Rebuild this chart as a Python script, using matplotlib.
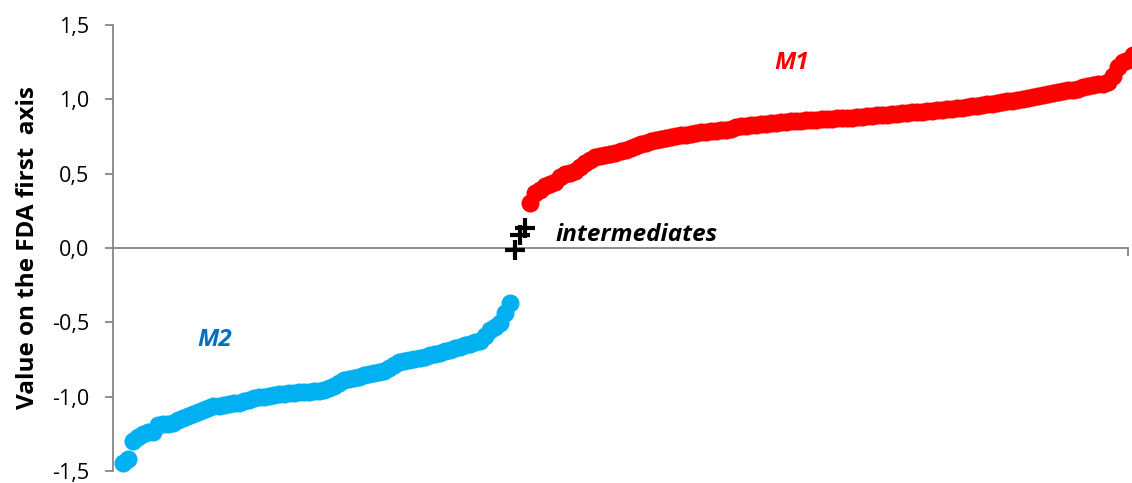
import numpy as np
import matplotlib
matplotlib.use('Agg')
import matplotlib.pyplot as plt
from matplotlib.ticker import FuncFormatter

plt.rcParams['font.family'] = ['Open Sans', 'DejaVu Sans']

# sorted scores on the first FDA axis, in rank order
m2 = [-1.45, -1.42, -1.30, -1.27, -1.25, -1.24, -1.235, -1.19, -1.185, -1.185,
      -1.18, -1.16, -1.145, -1.13, -1.115, -1.105, -1.09, -1.075, -1.065, -1.06,
      -1.055, -1.05, -1.045, -1.04, -1.03, -1.02, -1.01, -1.005, -1.0, -0.995,
      -0.99, -0.985, -0.982, -0.978, -0.975, -0.972, -0.968, -0.966, -0.963, -0.96,
      -0.955, -0.945, -0.93, -0.91, -0.89, -0.88, -0.872, -0.865, -0.857, -0.85,
      -0.843, -0.835, -0.825, -0.81, -0.785, -0.77, -0.76, -0.752, -0.745, -0.738,
      -0.73, -0.72, -0.712, -0.705, -0.695, -0.685, -0.675, -0.665, -0.655, -0.645,
      -0.635, -0.628, -0.59, -0.555, -0.53, -0.505, -0.44, -0.37]
inter = [-0.01, 0.09, 0.135]
m1 = [0.305, 0.37, 0.39, 0.415, 0.43, 0.445, 0.48, 0.495, 0.505, 0.52,
      0.545, 0.575, 0.59, 0.61, 0.62, 0.628, 0.635, 0.642, 0.65, 0.66,
      0.673, 0.685, 0.697, 0.708, 0.72, 0.728, 0.735, 0.742, 0.748, 0.753,
      0.758, 0.762, 0.768, 0.773, 0.778, 0.782, 0.786, 0.79, 0.793, 0.796,
      0.80, 0.812, 0.818, 0.822, 0.826, 0.83, 0.834, 0.837, 0.84, 0.843,
      0.846, 0.849, 0.852, 0.855, 0.858, 0.86, 0.862, 0.864, 0.866, 0.868,
      0.87, 0.872, 0.874, 0.876, 0.878, 0.88, 0.883, 0.886, 0.889, 0.892,
      0.895, 0.897, 0.9, 0.903, 0.906, 0.909, 0.912, 0.915, 0.918, 0.921,
      0.924, 0.927, 0.93, 0.933, 0.936, 0.94, 0.944, 0.948, 0.953, 0.958,
      0.963, 0.968, 0.972, 0.977, 0.981, 0.986, 0.992, 0.998, 1.004, 1.01,
      1.016, 1.021, 1.033, 1.039, 1.044, 1.05, 1.056, 1.062, 1.066, 1.07,
      1.084, 1.09, 1.096, 1.102, 1.107, 1.115, 1.16, 1.22, 1.25, 1.265, 1.30]

n2, ni, n1 = len(m2), len(inter), len(m1)
rank2 = np.arange(1, n2 + 1)
ranki = np.arange(n2 + 1, n2 + ni + 1)
rank1 = np.arange(n2 + ni + 1, n2 + ni + n1 + 1)
n = n2 + ni + n1

grey = '#868686'

fig = plt.figure(figsize=(11.32, 4.83), dpi=100)
ax = fig.add_axes([0.0998, 0.025, 0.8967, 0.923])

ax.plot(rank2, m2, 'o', color='#00B0F0', ms=13, mec='none', clip_on=False, zorder=3)
ax.plot(rank1, m1, 'o', color='#FF0000', ms=13, mec='none', clip_on=False, zorder=3)
ax.plot(ranki, inter, '+', color='black', ms=14, mew=3, clip_on=False, zorder=4)

ax.set_xlim(-1, n - 1)
ax.set_ylim(-1.5, 1.5)
ax.set_yticks(np.arange(-1.5, 1.51, 0.5))
ax.yaxis.set_major_formatter(FuncFormatter(lambda v, p: ('%.1f' % v).replace('.', ',')))
ax.set_xticks([n - 1])
ax.set_xticklabels([])

for s in ['top', 'right']:
    ax.spines[s].set_visible(False)
ax.spines['bottom'].set_position(('data', 0))
ax.spines['left'].set_color(grey)
ax.spines['bottom'].set_color(grey)
ax.spines['left'].set_linewidth(1.3)
ax.spines['bottom'].set_linewidth(1.3)
ax.tick_params(axis='y', direction='out', length=6, width=1.3, color=grey,
               labelsize=15.5, labelcolor='black', pad=11)
ax.tick_params(axis='x', direction='out', length=6, width=1.3, color=grey)

ax.set_ylabel('Value on the FDA first  axis', fontsize=17.5, fontweight='bold', labelpad=9)

ax.text(134, 1.245, 'M1', color='#FF0000', fontsize=17.5, fontweight='bold',
        fontstyle='italic', ha='center', va='center')
ax.text(19.3, -0.62, 'M2', color='#0070C0', fontsize=17.5, fontweight='bold',
        fontstyle='italic', ha='center', va='center')
ax.text(87, 0.085, 'intermediates', color='black', fontsize=17.5, fontweight='bold',
        fontstyle='italic', ha='left', va='center')

plt.savefig('out.png', dpi=100)
